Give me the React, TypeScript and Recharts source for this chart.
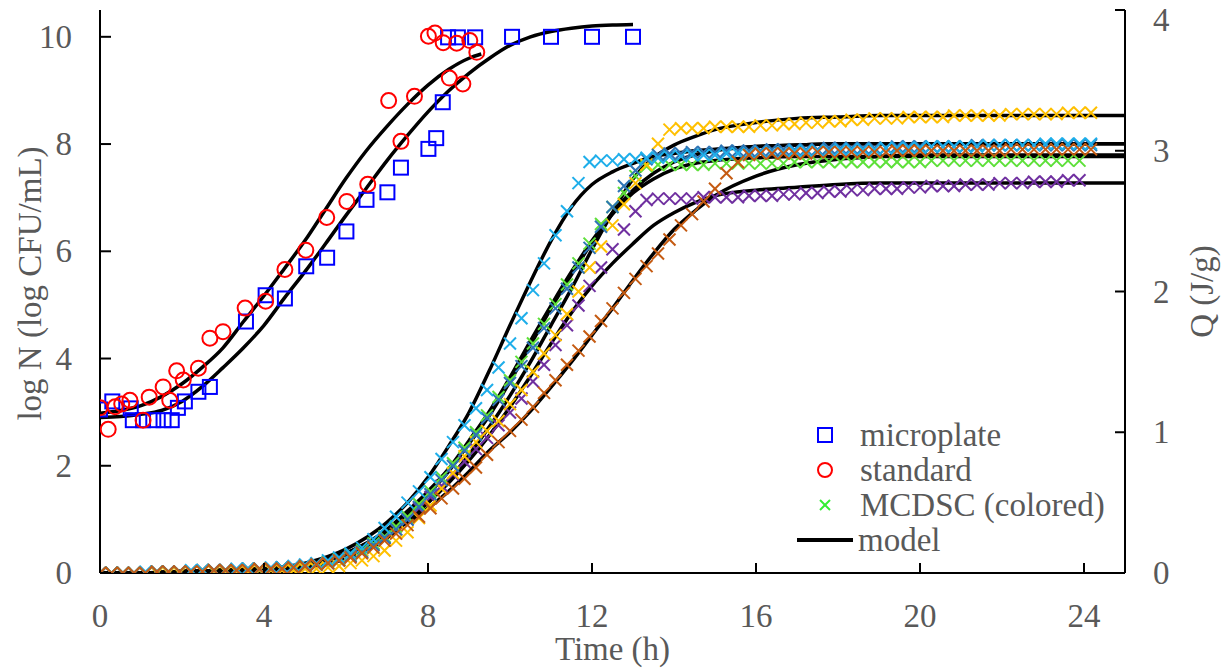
import React from 'react';
import { ComposedChart, XAxis, YAxis, Line, Scatter, Legend } from 'recharts';

// ---------- log N data (left axis) ----------
const mpTimes = [0, 0.3, 0.75, 0.8, 1.05, 1.3, 1.55, 1.75, 1.9, 2.07, 2.4, 2.68, 3.56, 4.04, 4.51, 5.03, 5.54, 6.01, 6.5, 7.01, 7.34, 8.01, 8.2, 8.36, 8.49, 8.73, 9.15, 10.05, 11.0, 12.0, 13.0];
const mpValues = [3.05, 3.2, 3.07, 2.85, 2.85, 2.85, 2.85, 2.85, 3.08, 3.2, 3.38, 3.47, 4.69, 5.18, 5.12, 5.72, 5.88, 6.37, 6.96, 7.1, 7.56, 7.91, 8.11, 8.78, 9.99, 9.99, 9.99, 10.0, 10.0, 10.0, 10.0];

const stTimes = [0, 0.2, 0.37, 0.53, 0.73, 1.05, 1.2, 1.54, 1.7, 1.87, 2.03, 2.4, 2.68, 3.0, 3.54, 4.04, 4.51, 5.02, 5.53, 6.02, 6.53, 7.04, 7.34, 7.67, 8.01, 8.17, 8.37, 8.52, 8.7, 8.85, 9.02, 9.19];
const stValues = [3.08, 2.68, 3.1, 3.15, 3.22, 2.85, 3.28, 3.47, 3.22, 3.77, 3.6, 3.82, 4.38, 4.5, 4.94, 5.07, 5.66, 6.02, 6.63, 6.93, 7.25, 8.81, 8.05, 8.89, 10.01, 10.07, 9.89, 9.23, 9.88, 9.12, 9.93, 9.71];

const mpModelTimes = [0, 0.5, 1, 1.5, 2, 2.5, 3, 3.5, 4, 4.5, 5, 5.5, 6, 6.5, 7, 7.5, 8, 8.5, 9, 9.5, 10, 10.5, 11, 11.5, 12, 12.5, 13];
const mpModelValues = [2.9, 2.92, 2.96, 3.03, 3.2, 3.48, 3.83, 4.2, 4.62, 5.13, 5.62, 6.14, 6.67, 7.18, 7.69, 8.16, 8.6, 8.99, 9.32, 9.6, 9.84, 10.0, 10.1, 10.16, 10.2, 10.22, 10.23];

const stModelTimes = [0, 0.5, 1, 1.5, 2, 2.5, 3, 3.5, 4, 4.5, 5, 5.5, 6, 6.5, 7, 7.5, 8, 8.5, 9, 9.3];
const stModelValues = [2.98, 3.03, 3.12, 3.29, 3.53, 3.84, 4.2, 4.69, 5.17, 5.68, 6.2, 6.78, 7.36, 7.88, 8.33, 8.74, 9.1, 9.39, 9.6, 9.68];

// ---------- Q data (right axis), sampled every 1000 s ----------
const qTimes = [0, 0.28, 0.56, 0.83, 1.11, 1.39, 1.67, 1.94, 2.22, 2.5, 2.78, 3.06, 3.33, 3.61, 3.89, 4.17, 4.44, 4.72, 5, 5.28, 5.56, 5.83, 6.11, 6.39, 6.67, 6.94, 7.22, 7.5, 7.78, 8.06, 8.33, 8.61, 8.89, 9.17, 9.44, 9.72, 10, 10.28, 10.56, 10.83, 11.11, 11.39, 11.67, 11.94, 12.22, 12.5, 12.78, 13.06, 13.33, 13.61, 13.89, 14.17, 14.44, 14.72, 15, 15.28, 15.56, 15.83, 16.11, 16.39, 16.67, 16.94, 17.22, 17.5, 17.78, 18.06, 18.33, 18.61, 18.89, 19.17, 19.44, 19.72, 20, 20.28, 20.56, 20.83, 21.11, 21.39, 21.67, 21.94, 22.22, 22.5, 22.78, 23.06, 23.33, 23.61, 23.89, 24.17];

const qLightBlue = [0, 0, 0, 0, 0.01, 0.01, 0.01, 0.01, 0.02, 0.02, 0.02, 0.02, 0.03, 0.03, 0.03, 0.04, 0.04, 0.05,
  0.06, 0.07, 0.09, 0.11, 0.14, 0.18, 0.24, 0.32, 0.4, 0.5, 0.58, 0.68,
  0.81, 0.93, 1.05, 1.17, 1.3, 1.46, 1.63, 1.81, 2.01, 2.2, 2.4, 2.57, 2.77, 2.92,
  2.93, 2.93, 2.94, 2.94, 2.95, 2.95, 2.96, 2.96, 2.97, 2.97, 2.97, 2.98, 2.98, 2.98, 2.99, 2.99, 2.99, 3.0, 3.0, 3.0, 3.0, 3.01, 3.01, 3.01, 3.01, 3.02, 3.02, 3.02, 3.02, 3.03, 3.03, 3.03, 3.03, 3.03, 3.04, 3.04, 3.04, 3.04, 3.04, 3.05, 3.05, 3.05, 3.05, 3.05];

const qSteelBlue = [0, 0, 0, 0, 0, 0.01, 0.01, 0.01, 0.01, 0.02, 0.02, 0.02, 0.02, 0.03, 0.03, 0.03, 0.04, 0.04,
  0.05, 0.06, 0.07, 0.09,
  0.12, 0.15, 0.2, 0.25, 0.31, 0.38, 0.47, 0.56, 0.66, 0.76, 0.87, 0.98, 1.1, 1.23, 1.35, 1.47, 1.6, 1.74, 1.88, 2.02, 2.17, 2.31, 2.46, 2.6, 2.75, 2.86, 2.94, 2.97,
  2.98, 2.98, 2.99, 2.99, 2.99, 3.0, 3.0, 3.0, 3.0, 3.01, 3.01, 3.01, 3.01, 3.01, 3.02, 3.02, 3.02, 3.02, 3.02, 3.02, 3.03, 3.03, 3.03, 3.03, 3.03, 3.03, 3.03, 3.04, 3.04, 3.04, 3.04, 3.04, 3.04, 3.04, 3.04, 3.04, 3.04, 3.04];

const qGreen = [0, 0, 0, 0, 0, 0.01, 0.01, 0.01, 0.01, 0.02, 0.02, 0.02, 0.02, 0.03, 0.03, 0.03, 0.04, 0.04, 0.05, 0.06, 0.08, 0.1,
  0.13, 0.16, 0.21, 0.26, 0.33, 0.4, 0.49, 0.58, 0.68, 0.78, 0.89, 1.0, 1.12, 1.25, 1.37, 1.5, 1.63, 1.77, 1.91, 2.05, 2.2, 2.34, 2.48, 2.6, 2.7, 2.82, 2.89, 2.9,
  2.9, 2.9, 2.9, 2.9, 2.91, 2.91, 2.91, 2.91, 2.91, 2.91, 2.91, 2.92, 2.92, 2.92, 2.92, 2.92, 2.92, 2.92, 2.92, 2.92, 2.92, 2.92, 2.92, 2.93, 2.93, 2.93, 2.93, 2.93, 2.93, 2.93, 2.93, 2.93, 2.93, 2.93, 2.93, 2.93, 2.93];

const qYellow = [0, 0, 0, 0, 0, 0, 0, 0, 0.01, 0.01, 0.01, 0.01, 0.01, 0.01, 0.02, 0.02, 0.02, 0.02,
  0.03, 0.03, 0.04, 0.05,
  0.07, 0.09, 0.12, 0.16, 0.23, 0.29, 0.39, 0.48, 0.6, 0.71, 0.83, 0.93, 1.01, 1.08, 1.2, 1.3, 1.43, 1.56, 1.69, 1.84, 2.0, 2.17, 2.32, 2.47, 2.62, 2.77, 2.9, 3.05, 3.15,
  3.16, 3.16, 3.16, 3.17, 3.17, 3.17, 3.17, 3.18, 3.18, 3.19, 3.19, 3.2, 3.2, 3.21, 3.21, 3.22, 3.22, 3.23, 3.23, 3.23, 3.24, 3.24, 3.24, 3.24, 3.25, 3.25, 3.25, 3.25, 3.25, 3.26, 3.26, 3.26, 3.26, 3.26, 3.27, 3.27, 3.27];

const qPurple = [0, 0, 0, 0, 0, 0.01, 0.01, 0.01, 0.01, 0.02, 0.02, 0.02, 0.02, 0.03, 0.03, 0.03, 0.04, 0.04, 0.05, 0.06, 0.07, 0.09,
  0.12, 0.15, 0.2, 0.25, 0.31, 0.38, 0.46, 0.54, 0.62, 0.7, 0.79, 0.88, 0.96, 1.05, 1.14, 1.24, 1.36, 1.48, 1.62, 1.76, 1.9, 2.04, 2.17, 2.3, 2.44, 2.57, 2.65, 2.66,
  2.66, 2.66, 2.66, 2.67, 2.67, 2.67, 2.67, 2.68, 2.68, 2.68, 2.69, 2.69, 2.7, 2.7, 2.71, 2.71, 2.72, 2.72, 2.73, 2.73, 2.73, 2.74, 2.74, 2.75, 2.75, 2.75, 2.76, 2.76, 2.76, 2.77, 2.77, 2.77, 2.78, 2.78, 2.78, 2.79, 2.79];

const qBrown = [0, 0, 0, 0, 0, 0.01, 0.01, 0.01, 0.01, 0.01, 0.02, 0.02, 0.02, 0.02, 0.03, 0.03, 0.03, 0.04, 0.05, 0.06, 0.07, 0.09,
  0.11, 0.14, 0.18, 0.23, 0.28, 0.34, 0.4, 0.46, 0.53, 0.6, 0.67, 0.75, 0.84, 0.93, 1.01, 1.09, 1.18, 1.28, 1.37, 1.48, 1.58, 1.68, 1.79, 1.88, 1.99, 2.09, 2.18, 2.27, 2.37, 2.47, 2.55, 2.64, 2.73, 2.84, 2.92, 2.97,
  2.98, 2.98, 2.98, 2.98, 2.98, 2.99, 2.99, 2.99, 2.99, 2.99, 2.99, 2.99, 3.0, 3.0, 3.0, 3.0, 3.0, 3.0, 3.0, 3.0, 3.0, 3.0, 3.01, 3.01, 3.01, 3.01, 3.01, 3.01, 3.01, 3.01];

// model curves for Q
const qModelTimes = [0, 1, 2, 3, 4, 5, 6, 7, 7.5, 8, 8.5, 9, 9.5, 10, 10.5, 11, 11.5, 12, 12.5, 13, 13.5, 14, 14.5, 15, 16, 17, 18, 19, 20, 22, 25];
const mLightBlue = [0, 0, 0.01, 0.02, 0.03, 0.07, 0.17, 0.36, 0.5, 0.68, 0.9, 1.14, 1.44, 1.76, 2.07, 2.36, 2.6, 2.76, 2.85, 2.91, 2.96, 2.98, 3.0, 3.01, 3.03, 3.04, 3.05, 3.05, 3.05, 3.05, 3.05];
const mSteelBlue = [0, 0, 0.01, 0.02, 0.03, 0.06, 0.14, 0.3, 0.42, 0.56, 0.72, 0.92, 1.12, 1.36, 1.62, 1.88, 2.12, 2.35, 2.56, 2.72, 2.84, 2.92, 2.97, 3.0, 3.03, 3.04, 3.05, 3.05, 3.05, 3.05, 3.05];
const mGreen = [0, 0, 0.01, 0.02, 0.03, 0.06, 0.14, 0.31, 0.44, 0.58, 0.74, 0.94, 1.15, 1.39, 1.65, 1.9, 2.14, 2.36, 2.55, 2.7, 2.8, 2.87, 2.91, 2.93, 2.95, 2.96, 2.96, 2.96, 2.96, 2.96, 2.96];
const mYellow = [0, 0, 0.01, 0.01, 0.02, 0.04, 0.1, 0.25, 0.37, 0.5, 0.66, 0.84, 1.04, 1.26, 1.5, 1.76, 2.02, 2.3, 2.56, 2.8, 2.95, 3.04, 3.1, 3.15, 3.2, 3.23, 3.24, 3.25, 3.25, 3.25, 3.25];
const mPurple = [0, 0, 0.01, 0.02, 0.03, 0.06, 0.13, 0.28, 0.38, 0.5, 0.64, 0.8, 0.98, 1.18, 1.4, 1.63, 1.85, 2.04, 2.2, 2.34, 2.47, 2.56, 2.63, 2.68, 2.72, 2.74, 2.76, 2.77, 2.77, 2.77, 2.77];
const mBrown = [0, 0, 0.01, 0.02, 0.03, 0.06, 0.13, 0.27, 0.36, 0.46, 0.58, 0.72, 0.87, 1.0, 1.15, 1.32, 1.5, 1.69, 1.88, 2.08, 2.27, 2.44, 2.57, 2.68, 2.82, 2.9, 2.94, 2.96, 2.97, 2.97, 2.97];

// ticks
const xTicks = [0, 4, 8, 12, 16, 20, 24];
const leftTicks = [0, 2, 4, 6, 8, 10];
const rightTicks = [0, 1, 2, 3, 4];

const FONT = '"Liberation Serif", "Times New Roman", serif';
const TXT = '#595959';
const FS = 33;

const pts = (ts: number[], vs: number[]) => vs.map((v, i) => ({ x: ts[i], y: v }));

const qSeries = [
  { name: 'q-purple', color: '#7030A0', vals: qPurple },
  { name: 'q-green', color: '#5EE03A', vals: qGreen },
  { name: 'q-yellow', color: '#FFC000', vals: qYellow },
  { name: 'q-steel', color: '#2E75B6', vals: qSteelBlue },
  { name: 'q-light', color: '#1EAEEA', vals: qLightBlue },
  { name: 'q-brown', color: '#C55A11', vals: qBrown },
];
const qModels = [mLightBlue, mSteelBlue, mGreen, mYellow, mPurple, mBrown];

const crossShape = (color: string) => (p: any) => {
  const { cx, cy } = p;
  if (cx == null || cy == null) return <g />;
  const s = 6;
  return (
    <g>
      <line x1={cx - s} y1={cy - s} x2={cx + s} y2={cy + s} stroke={color} strokeWidth={2} />
      <line x1={cx - s} y1={cy + s} x2={cx + s} y2={cy - s} stroke={color} strokeWidth={2} />
    </g>
  );
};
const squareShape = (p: any) => {
  const { cx, cy } = p;
  if (cx == null || cy == null) return <g />;
  return <rect x={cx - 7} y={cy - 7} width={14} height={14} fill="none" stroke="#0000FF" strokeWidth={2} />;
};
const circleShape = (p: any) => {
  const { cx, cy } = p;
  if (cx == null || cy == null) return <g />;
  return <circle cx={cx} cy={cy} r={7.5} fill="none" stroke="#FF0000" strokeWidth={2} />;
};

const LEFT_MARGIN = 28;
const RIGHT_MARGIN = 28;
const BOTTOM_MARGIN = 43;

const LeftTick = (p: any) => {
  const { x, y, payload } = p;
  const ax = x + LEFT_MARGIN;
  return (
    <g>
      <line x1={ax} x2={ax + 11} y1={y} y2={y} stroke="#000" strokeWidth={2} />
      <text x={x} y={y} textAnchor="end" dominantBaseline="central" fontFamily={FONT} fontSize={FS} fill={TXT}>{payload.value}</text>
    </g>
  );
};
const RightTick = (p: any) => {
  const { x, y, payload } = p;
  const ax = x - RIGHT_MARGIN;
  return (
    <g>
      <line x1={ax} x2={ax - 10} y1={y} y2={y} stroke="#000" strokeWidth={2} />
      <text x={x} y={Math.max(y, 20)} textAnchor="start" dominantBaseline="central" fontFamily={FONT} fontSize={FS} fill={TXT}>{payload.value}</text>
    </g>
  );
};
const BottomTick = (p: any) => {
  const { x, y, payload } = p;
  const ay = y - BOTTOM_MARGIN;
  return (
    <g>
      <line x1={x} x2={x} y1={ay} y2={ay - 10} stroke="#000" strokeWidth={2} />
      <text x={x} y={y} textAnchor="middle" dominantBaseline="central" fontFamily={FONT} fontSize={FS} fill={TXT}>{payload.value}</text>
    </g>
  );
};

const LeftLabel = (p: any) => {
  const vb = p.viewBox || {};
  const cx = vb.x + 30;
  const cy = vb.y + vb.height / 2 - 8;
  return (
    <text x={cx} y={cy} transform={`rotate(-90, ${cx}, ${cy})`} textAnchor="middle" dominantBaseline="central" fontFamily={FONT} fontSize={FS} fill={TXT}>log N (log CFU/mL)</text>
  );
};
const RightLabel = (p: any) => {
  const vb = p.viewBox || {};
  const cx = vb.x + 77;
  const cy = vb.y + vb.height / 2;
  return (
    <text x={cx} y={cy} transform={`rotate(-90, ${cx}, ${cy})`} textAnchor="middle" dominantBaseline="central" fontFamily={FONT} fontSize={FS} fill={TXT}>Q (J/g)</text>
  );
};
const BottomLabel = (p: any) => {
  const vb = p.viewBox || {};
  const cx = vb.x + vb.width / 2;
  const cy = vb.y + 87;
  return (
    <text x={cx} y={cy} textAnchor="middle" fontFamily={FONT} fontSize={FS} fill={TXT}>Time (h)</text>
  );
};

const LegendContent = () => (
  <svg width={360} height={150} style={{ overflow: 'visible' }}>
    <rect x={38} y={18} width={14} height={14} fill="none" stroke="#0000FF" strokeWidth={2} />
    <text x={80} y={25} dominantBaseline="central" fontFamily={FONT} fontSize={FS} fill={TXT}>microplate</text>
    <circle cx={45} cy={60} r={7} fill="none" stroke="#FF0000" strokeWidth={2} />
    <text x={80} y={60} dominantBaseline="central" fontFamily={FONT} fontSize={FS} fill={TXT}>standard</text>
    <line x1={40} y1={90} x2={50} y2={100} stroke="#33EE33" strokeWidth={2} />
    <line x1={40} y1={100} x2={50} y2={90} stroke="#33EE33" strokeWidth={2} />
    <text x={80} y={95} dominantBaseline="central" fontFamily={FONT} fontSize={FS} fill={TXT}>MCDSC (colored)</text>
    <line x1={17} y1={130} x2={73} y2={130} stroke="#000" strokeWidth={4} />
    <text x={78} y={130} dominantBaseline="central" fontFamily={FONT} fontSize={FS} fill={TXT}>model</text>
  </svg>
);

export default function App() {
  return (
    <div style={{ position: 'absolute', left: 0, top: 0, width: 1226, height: 668, background: '#fff' }}>
      <ComposedChart width={1226} height={668} margin={{ top: 10, right: 0, bottom: 0, left: 0 }}>
        <XAxis
          type="number"
          dataKey="x"
          domain={[0, 25]}
          ticks={xTicks}
          interval={0}
          allowDataOverflow
          height={95}
          axisLine={{ stroke: '#000', strokeWidth: 2 }}
          tickLine={false}
          tickSize={0}
          tickMargin={BOTTOM_MARGIN}
          tick={BottomTick}
          label={{ content: BottomLabel }}
        />
        <YAxis
          yAxisId="left"
          dataKey="y"
          type="number"
          domain={[0, 10.5]}
          ticks={leftTicks}
          interval={0}
          allowDataOverflow
          width={100}
          axisLine={{ stroke: '#000', strokeWidth: 2 }}
          tickLine={false}
          tickSize={0}
          tickMargin={LEFT_MARGIN}
          tick={LeftTick}
          label={{ content: LeftLabel }}
        />
        <YAxis
          yAxisId="right"
          orientation="right"
          dataKey="y"
          type="number"
          domain={[0, 4]}
          ticks={rightTicks}
          interval={0}
          allowDataOverflow
          width={101}
          axisLine={{ stroke: '#000', strokeWidth: 2 }}
          tickLine={false}
          tickSize={0}
          tickMargin={RIGHT_MARGIN}
          tick={RightTick}
          label={{ content: RightLabel }}
        />
        <Legend
          layout="vertical"
          align="center"
          verticalAlign="middle"
          wrapperStyle={{ left: 780, top: 410, width: 360, height: 150 }}
          content={LegendContent}
        />
        {qModels.map((m, i) => (
          <Line
            key={'qm' + i}
            yAxisId="right"
            data={pts(qModelTimes, m)}
            dataKey="y"
            type="monotone"
            stroke="#000"
            strokeWidth={3.5}
            dot={false}
            activeDot={false}
            isAnimationActive={false}
            legendType="none"
          />
        ))}
        {qSeries.map((s) => (
          <Scatter
            key={s.name}
            name={s.name}
            yAxisId="right"
            data={pts(qTimes, s.vals)}
            dataKey="y"
            shape={crossShape(s.color)}
            isAnimationActive={false}
            legendType="none"
          />
        ))}
        <Line yAxisId="left" data={pts(mpModelTimes, mpModelValues)} dataKey="y" type="monotone" stroke="#000" strokeWidth={3.5} dot={false} activeDot={false} isAnimationActive={false} legendType="none" />
        <Line yAxisId="left" data={pts(stModelTimes, stModelValues)} dataKey="y" type="monotone" stroke="#000" strokeWidth={3.5} dot={false} activeDot={false} isAnimationActive={false} legendType="none" />
        <Scatter name="microplate" yAxisId="left" data={pts(mpTimes, mpValues)} dataKey="y" shape={squareShape} isAnimationActive={false} />
        <Scatter name="standard" yAxisId="left" data={pts(stTimes, stValues)} dataKey="y" shape={circleShape} isAnimationActive={false} />
      </ComposedChart>
    </div>
  );
}
